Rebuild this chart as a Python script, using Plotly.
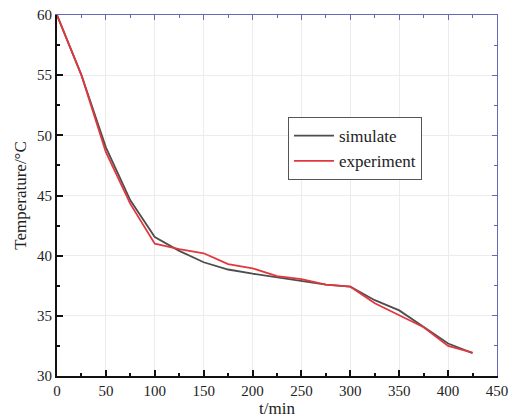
import plotly.graph_objects as go

t_min = [0, 25, 50, 75, 100, 125, 150, 175, 200, 225, 250, 275, 300, 325, 350, 375, 400, 425]
simulate = [60.0, 55.0, 49.0, 44.6, 41.55, 40.4, 39.45, 38.85, 38.5, 38.2, 37.95, 37.6, 37.42, 36.3, 35.45, 34.1, 32.7, 31.9]
experiment = [60.0, 55.0, 48.6, 44.3, 41.0, 40.55, 40.2, 39.3, 38.95, 38.3, 38.05, 37.6, 37.42, 36.05, 35.05, 34.05, 32.5, 31.95]

x_ticks = [0, 50, 100, 150, 200, 250, 300, 350, 400, 450]
y_ticks = [30, 35, 40, 45, 50, 55, 60]

font_family = "Times New Roman"

fig = go.Figure()
fig.add_trace(go.Scatter(x=t_min, y=simulate, mode="lines", name="simulate",
                         line=dict(color="#4d4d4d", width=1.8)))
fig.add_trace(go.Scatter(x=t_min, y=experiment, mode="lines", name="experiment",
                         line=dict(color="#e0383e", width=1.8)))

# invisible trace to activate secondary axes
fig.add_trace(go.Scatter(x=[0], y=[30], xaxis="x2", yaxis="y2", mode="markers",
                         marker=dict(opacity=0), showlegend=False, hoverinfo="skip"))

fig.update_layout(
    width=513, height=420,
    margin=dict(l=57, r=16, t=15, b=44, autoexpand=False),
    paper_bgcolor="white", plot_bgcolor="white",
    font=dict(family=font_family, size=15, color="#222"),
    showlegend=True,
    legend=dict(x=0.525, y=0.717, xanchor="left", yanchor="top",
                bgcolor="white", bordercolor="#555", borderwidth=1,
                font=dict(size=17, family=font_family, color="#222"),
                itemwidth=40, tracegroupgap=0),
    xaxis=dict(range=[0, 450], tickvals=x_ticks, showgrid=True, gridcolor="#ececec",
               gridwidth=1, showline=True, linecolor="#111", linewidth=2,
               ticks="inside", ticklen=6, tickwidth=1.5, tickcolor="#111",
               minor=dict(dtick=25, ticks="inside", ticklen=3, tickcolor="#111", showgrid=False),
               zeroline=False, automargin=False,
               title=dict(text="t/min", font=dict(size=17, family=font_family), standoff=4),
               tickfont=dict(size=15, family=font_family)),
    yaxis=dict(range=[30, 60], tickvals=y_ticks, showgrid=True, gridcolor="#ececec",
               gridwidth=1, showline=True, linecolor="#111", linewidth=2,
               ticks="inside", ticklen=6, tickwidth=1.5, tickcolor="#111",
               minor=dict(dtick=2.5, ticks="inside", ticklen=3, tickcolor="#111", showgrid=False),
               zeroline=False, automargin=False,
               title=dict(text="Temperature/°C", font=dict(size=17, family=font_family), standoff=6),
               tickfont=dict(size=15, family=font_family)),
    xaxis2=dict(range=[0, 450], overlaying="x", side="top", tickvals=x_ticks,
                showticklabels=False, showgrid=False, showline=True, linecolor="#6666bb",
                linewidth=1, ticks="inside", ticklen=5, tickcolor="#6666bb",
                minor=dict(dtick=25, ticks="inside", ticklen=3, tickcolor="#6666bb"),
                zeroline=False, automargin=False),
    yaxis2=dict(range=[30, 60], overlaying="y", side="right", tickvals=y_ticks,
                showticklabels=False, showgrid=False, showline=True, linecolor="#6666bb",
                linewidth=1, ticks="inside", ticklen=5, tickcolor="#6666bb",
                minor=dict(dtick=2.5, ticks="inside", ticklen=3, tickcolor="#6666bb"),
                zeroline=False, automargin=False),
)

fig.write_html("out.html")
